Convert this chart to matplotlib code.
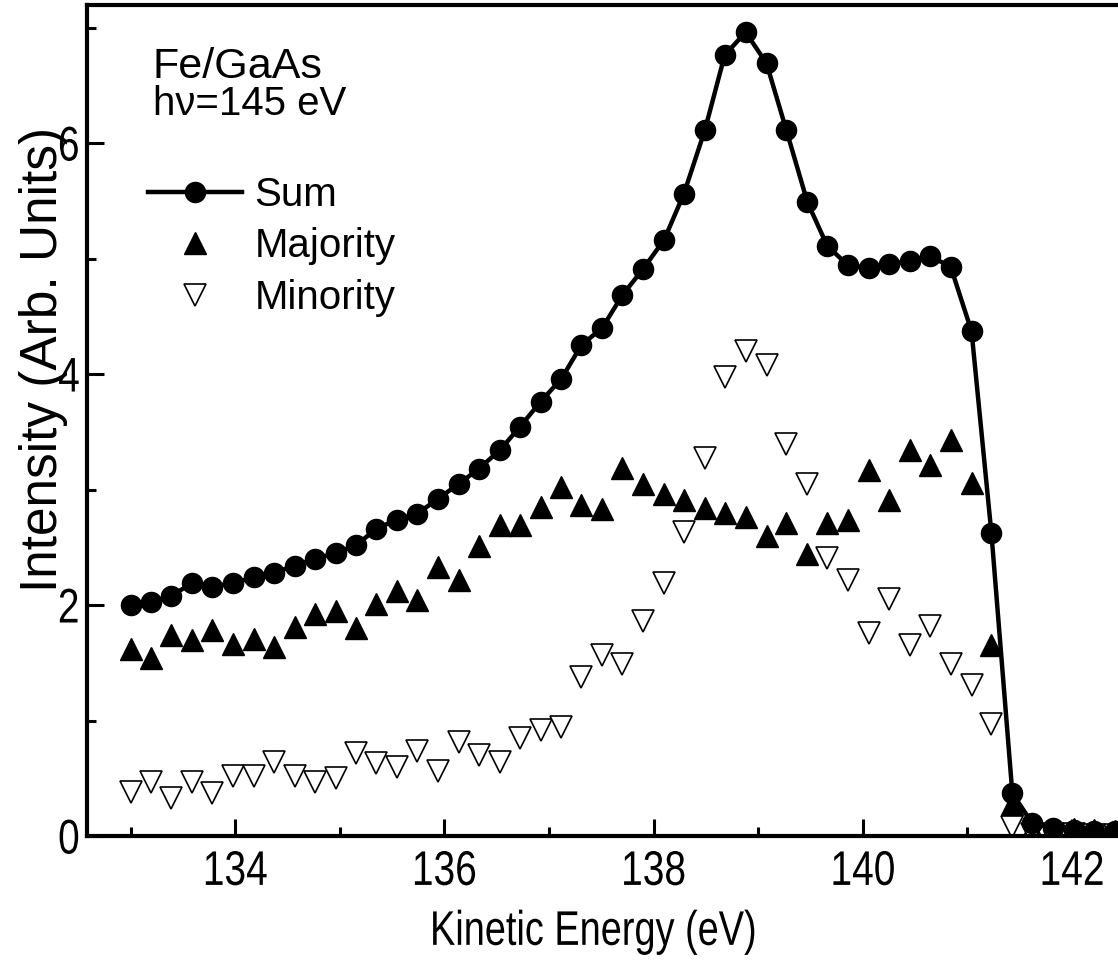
import matplotlib
matplotlib.use('Agg')
import matplotlib.pyplot as plt
import matplotlib.patheffects as pe
from matplotlib.ticker import MultipleLocator
from matplotlib.transforms import Affine2D

# kinetic energy (eV) of each data point
energy = [133.00, 133.20, 133.39, 133.59, 133.78, 133.98, 134.18, 134.37, 134.57, 134.76,
          134.96, 135.16, 135.35, 135.55, 135.74, 135.94, 136.14, 136.33, 136.53, 136.72,
          136.92, 137.12, 137.31, 137.51, 137.70, 137.90, 138.10, 138.29, 138.49, 138.68,
          138.88, 139.08, 139.27, 139.47, 139.66, 139.86, 140.06, 140.25, 140.45, 140.64,
          140.84, 141.04, 141.23, 141.43, 141.62, 141.82, 142.02, 142.21, 142.41]

sum_int = [2.00, 2.03, 2.08, 2.19, 2.16, 2.19, 2.24, 2.28, 2.34, 2.40,
           2.45, 2.52, 2.66, 2.74, 2.79, 2.92, 3.05, 3.18, 3.34, 3.54,
           3.76, 3.96, 4.25, 4.40, 4.68, 4.91, 5.16, 5.56, 6.11, 6.76,
           6.96, 6.69, 6.11, 5.49, 5.11, 4.94, 4.92, 4.95, 4.98, 5.02,
           4.93, 4.37, 2.62, 0.37, 0.11, 0.07, 0.05, 0.04, 0.04]

majority = [1.62, 1.54, 1.74, 1.70, 1.78, 1.66, 1.71, 1.64, 1.81, 1.92,
            1.95, 1.80, 2.01, 2.12, 2.04, 2.33, 2.22, 2.51, 2.69, 2.69,
            2.85, 3.02, 2.87, 2.83, 3.19, 3.05, 2.96, 2.91, 2.84, 2.80,
            2.76, 2.60, 2.71, 2.44, 2.71, 2.74, 3.17, 2.91, 3.34, 3.21,
            3.43, 3.06, 1.65, 0.28, 0.06, 0.05, 0.06, 0.05, 0.04]

minority = [0.38, 0.47, 0.33, 0.47, 0.37, 0.52, 0.52, 0.64, 0.52, 0.47,
            0.50, 0.72, 0.63, 0.60, 0.74, 0.56, 0.81, 0.70, 0.64, 0.85,
            0.92, 0.94, 1.38, 1.57, 1.49, 1.86, 2.19, 2.63, 3.27, 3.97,
            4.20, 4.08, 3.39, 3.05, 2.41, 2.22, 1.76, 2.05, 1.65, 1.82,
            1.49, 1.31, 0.97, 0.08, 0.02, 0.02, 0.02, 0.01, 0.01]


class Squeeze(pe.AbstractPathEffect):
    # narrows the glyphs horizontally (the axis text of the original is a condensed face)
    def __init__(self, sx, anchor='center'):
        super().__init__()
        self.sx = sx
        self.anchor = anchor

    def draw_path(self, renderer, gc, tpath, affine, rgbFace=None):
        ext = tpath.get_extents()
        x0 = {'center': (ext.x0 + ext.x1) / 2, 'right': ext.x1, 'left': ext.x0}[self.anchor]
        sq = Affine2D().translate(-x0, 0).scale(self.sx, 1).translate(x0, 0)
        renderer.draw_path(gc, tpath, sq + affine, rgbFace)


plt.rcParams['font.family'] = ['Liberation Sans', 'DejaVu Sans']

fig = plt.figure(figsize=(11.18, 9.76), dpi=100)
ax = fig.add_axes([87 / 1118, 140 / 976, 1031 / 1118, 831 / 976])

ax.plot(energy, majority, ls='none', marker='^', ms=16, color='black', label='Majority', zorder=2)
ax.plot(energy, minority, ls='none', marker='v', ms=16.5, mfc='white', mec='black', mew=1.2,
        label='Minority', zorder=2)
ax.plot(energy, sum_int, '-o', color='black', lw=3.2, ms=14.5, label='Sum', zorder=3)

ax.set_xlim(132.584, 142.44)
ax.set_ylim(0, 7.195)
ax.xaxis.set_major_locator(MultipleLocator(2))
ax.xaxis.set_minor_locator(MultipleLocator(1))
ax.yaxis.set_major_locator(MultipleLocator(2))
ax.yaxis.set_minor_locator(MultipleLocator(1))
ax.tick_params(which='both', direction='in', width=2.2)
ax.tick_params(axis='x', pad=10)
ax.tick_params(axis='y', pad=5)
ax.tick_params(which='major', length=12)
ax.tick_params(which='minor', length=6.5)
for lab in ax.get_xticklabels():
    lab.set_fontsize(35)
    lab.set_path_effects([Squeeze(0.8, 'center')])
for lab in ax.get_yticklabels():
    lab.set_fontsize(35)
    lab.set_path_effects([Squeeze(0.8, 'right')])

for s in ['left', 'bottom', 'top']:
    ax.spines[s].set_linewidth(3)
ax.spines['right'].set_visible(False)

ax.set_xlabel('Kinetic Energy (eV)', fontsize=35, va='baseline',
              path_effects=[Squeeze(0.78, 'center')])
ax.xaxis.set_label_coords(0.491, -0.131)
ax.set_ylabel('Intensity (Arb. Units)', fontsize=37, va='center')
ax.yaxis.set_label_coords(-0.042, 0.574)

ax.text(0.064, 0.912, 'Fe/GaAs', transform=ax.transAxes, fontsize=31, va='baseline')
ax.text(0.064, 0.868, 'h\u03bd=145 eV', transform=ax.transAxes, fontsize=29, va='baseline')

h, l = ax.get_legend_handles_labels()
ax.legend([h[2], h[0], h[1]], [l[2], l[0], l[1]], loc='upper left', bbox_to_anchor=(0.059, 0.794),
          frameon=False, fontsize=29, handlelength=2.33, handletextpad=0.32, labelspacing=0.33,
          borderpad=0, borderaxespad=0, numpoints=1)

fig.savefig('out.png', dpi=100)
